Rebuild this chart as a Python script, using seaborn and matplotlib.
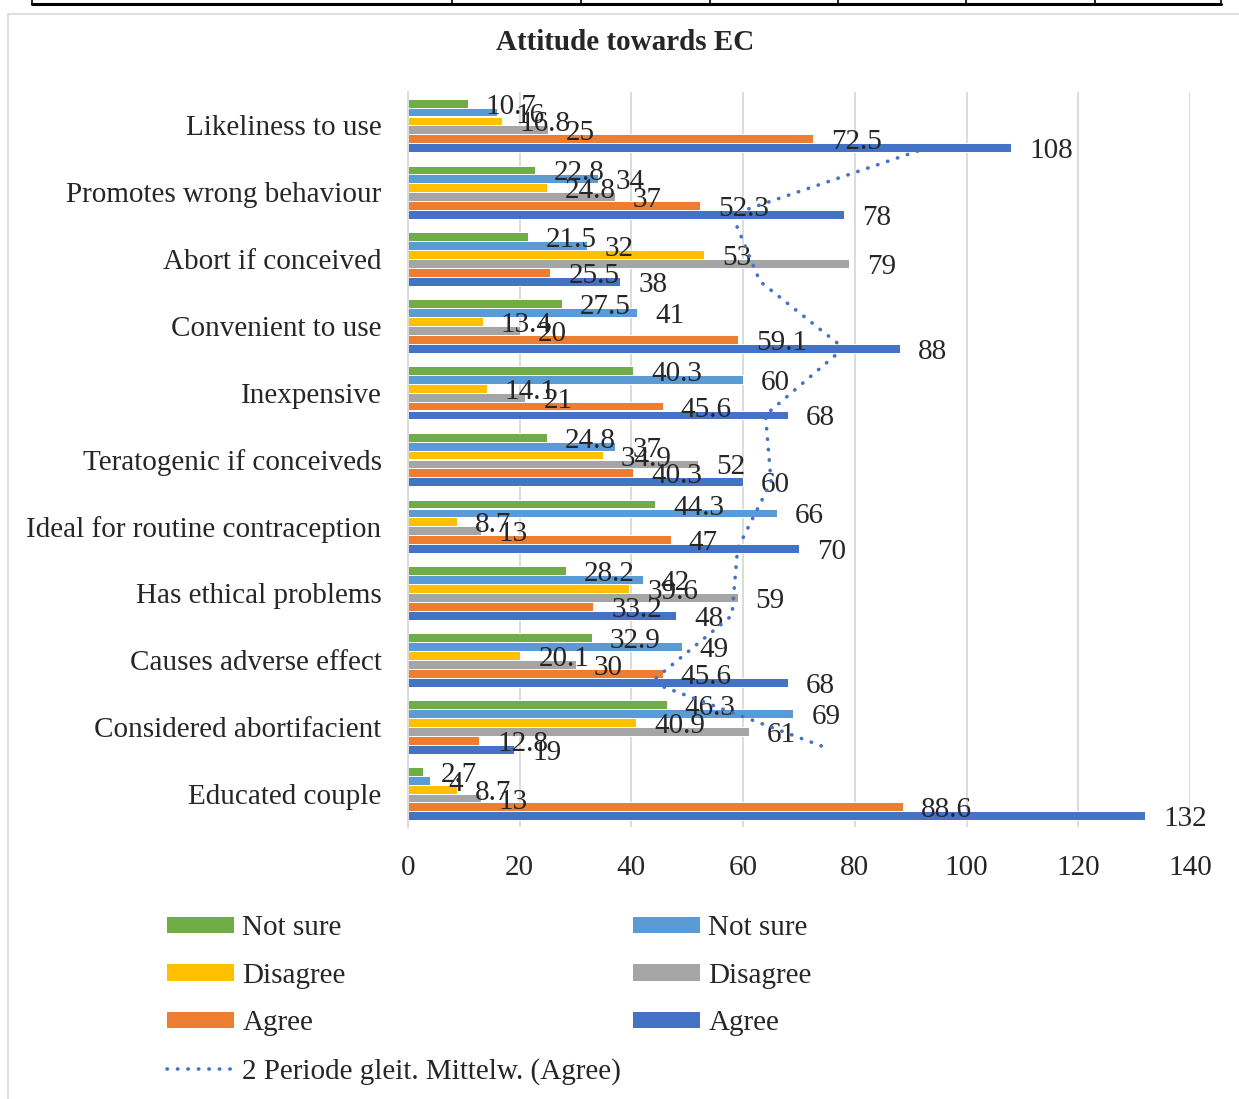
import pandas as pd
import matplotlib.pyplot as plt
import seaborn as sns
from matplotlib.lines import Line2D
from matplotlib.patches import Patch

# Data (top to bottom)
statements = [
    "Likeliness to use", "Promotes wrong behaviour", "Abort if conceived",
    "Convenient to use", "Inexpensive", "Teratogenic if conceiveds",
    "Ideal for routine contraception", "Has ethical problems",
    "Causes adverse effect", "Considered abortifacient", "Educated couple",
]
not_sure_pct = [10.7, 22.8, 21.5, 27.5, 40.3, 24.8, 44.3, 28.2, 32.9, 46.3, 2.7]
not_sure_n = [16, 34, 32, 41, 60, 37, 66, 42, 49, 69, 4]
disagree_pct = [16.8, 24.8, 53, 13.4, 14.1, 34.9, 8.7, 39.6, 20.1, 40.9, 8.7]
disagree_n = [25, 37, 79, 20, 21, 52, 13, 59, 30, 61, 13]
agree_pct = [72.5, 52.3, 25.5, 59.1, 45.6, 40.3, 47, 33.2, 45.6, 12.8, 88.6]
agree_n = [108, 78, 38, 88, 68, 60, 70, 48, 68, 19, 132]

series_keys = ["Not sure %", "Not sure n", "Disagree %", "Disagree n", "Agree %", "Agree n"]
series_labels = ["Not sure", "Not sure", "Disagree", "Disagree", "Agree", "Agree"]
series_values = [not_sure_pct, not_sure_n, disagree_pct, disagree_n, agree_pct, agree_n]
colors = ["#70AD47", "#5B9BD5", "#FFC000", "#A5A5A5", "#ED7D31", "#4472C4"]

# Long format table for seaborn
rows = []
for key, vals in zip(series_keys, series_values):
    for stmt, v in zip(statements, vals):
        rows.append({"statement": stmt, "series": key, "value": v})
df = pd.DataFrame(rows)

sns.set_style("white")
plt.rcParams["font.family"] = ["Liberation Serif", "DejaVu Serif"]
FS = 21

fig = plt.figure(figsize=(12.39, 10.99), dpi=100)
ax = fig.add_axes([408 / 1239, 1 - 827 / 1099, 782 / 1239, 735 / 1099])

sns.barplot(data=df, x="value", y="statement", hue="series", order=statements,
            hue_order=series_keys, palette=colors, saturation=1, orient="h", width=0.8,
            gap=0, edgecolor="white", linewidth=0.7, legend=False, errorbar=None, ax=ax)
ax.set_ylim(len(statements) - 0.5, -0.5)

# Data labels, sitting a little below the bar centre as in the original
for cont, vals in zip(ax.containers, series_values):
    anns = ax.bar_label(cont, labels=[f"{v:g}" for v in vals], padding=13, fontsize=FS)
    for a in anns:
        a.xyann = (13, -2.5)

# 2 period moving average of Agree (count)
dot_style = dict(color="#4472C4", lw=2.6, ls=(0, (0.1, 2.8)), dash_capstyle="round")
agree_ma = pd.Series(agree_n, dtype=float).rolling(2).mean().shift(-1).dropna()
blue_y = [p.get_y() + p.get_height() / 2 for p in ax.containers[5]][:len(agree_ma)]
ax.plot(agree_ma.values, blue_y, zorder=5, **dot_style)

ax.set_xlim(0, 140)
ax.set_xticks(range(0, 141, 20))
ax.set_xlabel("")
ax.set_ylabel("")
ax.grid(axis="x", color="#D9D9D9", lw=1.3)
ax.set_axisbelow(True)
for side in ["top", "right", "bottom"]:
    ax.spines[side].set_visible(False)
ax.spines["left"].set_color("#D9D9D9")
ax.spines["left"].set_linewidth(1.3)
ax.tick_params(axis="x", length=0, pad=20, labelsize=FS)
ax.tick_params(axis="y", length=0, pad=19, labelsize=FS)

fig.text(625 / 1239, 1 - 43 / 1099, "Attitude towards EC", ha="center", va="center",
         fontsize=FS, fontweight="bold")

# Legend (column-major order gives the two-column row layout)
patch = [Patch(facecolor=c, edgecolor="none") for c in colors]
line = Line2D([], [], **dot_style)
handles = [patch[0], patch[2], patch[4], line, patch[1], patch[3], patch[5]]
labels = [series_labels[0], series_labels[2], series_labels[4],
          "2 Periode gleit. Mittelw. (Agree)",
          series_labels[1], series_labels[3], series_labels[5]]
fig.legend(handles, labels, loc="upper left", bbox_to_anchor=(141 / 1239, 1 - 889 / 1099),
           ncol=2, frameon=False, fontsize=FS, handlelength=2.3, handleheight=0.5,
           handletextpad=0.28, labelspacing=0.74, columnspacing=0.4)

# Chart frame and table edge above the chart
fig.add_artist(Line2D([8 / 1239, 8 / 1239], [0, 1 - 14 / 1099], color="#D9D9D9", lw=1.2))
fig.add_artist(Line2D([8 / 1239, 1], [1 - 14 / 1099, 1 - 14 / 1099], color="#D9D9D9", lw=1.2))
fig.add_artist(Line2D([32 / 1239, 1221 / 1239], [1 - 4 / 1099, 1 - 4 / 1099], color="black", lw=2.2))
for xp in [32, 452, 581, 710, 838, 966, 1095, 1221]:
    fig.add_artist(Line2D([xp / 1239, xp / 1239], [1 - 4 / 1099, 1], color="black", lw=1.2))

fig.savefig("out.png", dpi=100)
